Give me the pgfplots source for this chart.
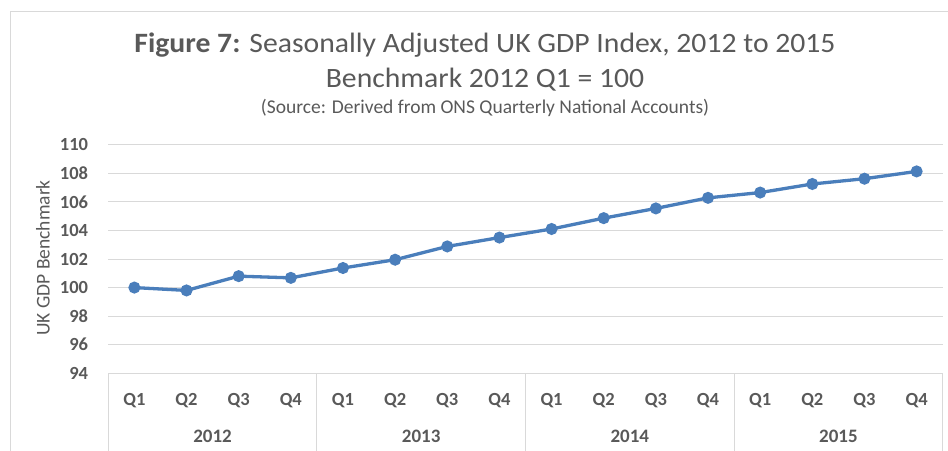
\documentclass[border=0pt]{standalone}
\usepackage{pgfplots}
\pgfplotsset{compat=1.18}
\usepackage{fontspec}
\setmainfont{Carlito}
\definecolor{gdpblue}{HTML}{4A7EBB}
\definecolor{labelgrey}{HTML}{595959}
\definecolor{gridgrey}{HTML}{D9D9D9}
\begin{document}
\begin{tikzpicture}
% chart frame (only top and left edges are in view)
\draw[gridgrey,line width=1pt] (10pt,-5pt) -- (10pt,438pt) -- (955pt,438pt);
% titles
\node[labelgrey,anchor=base,inner sep=0pt,font=\fontsize{28}{34}\selectfont] at (485pt,397.7pt) {\scalebox{1.06}[1]{\textbf{Figure 7:} Seasonally Adjusted UK GDP Index, 2012 to 2015}};
\node[labelgrey,anchor=base,inner sep=0pt,font=\fontsize{28}{34}\selectfont] at (485pt,362.5pt) {\scalebox{1.06}[1]{Benchmark 2012 Q1 = 100}};
\node[labelgrey,anchor=base,inner sep=0pt,font=\fontsize{19.5}{23}\selectfont] at (485pt,336pt) {(Source: Derived from ONS Quarterly National Accounts)};
\node[labelgrey,rotate=90,inner sep=0pt,font=\fontsize{19.5}{23}\selectfont] at (43pt,192pt) {UK GDP Benchmark};
\begin{axis}[
  at={(108.3pt,76.7pt)},anchor=south west,
  scale only axis,width=834.4pt,height=228.6pt,
  xmin=-0.5,xmax=15.5,ymin=94,ymax=110,
  ytick={94,96,...,110},
  xtick={0,...,15},
  xticklabels={Q1,Q2,Q3,Q4,Q1,Q2,Q3,Q4,Q1,Q2,Q3,Q4,Q1,Q2,Q3,Q4},
  axis lines*=left,
  axis line style={gridgrey,line width=1pt},
  y axis line style={draw=none},
  ymajorgrids,grid style={gridgrey,line width=1pt},
  major tick length=0pt,
  clip=false,
  yticklabel style={labelgrey,inner sep=0pt,anchor=east,xshift=-20pt,font=\bfseries\fontsize{18.5}{22}\selectfont},
  xticklabel style={labelgrey,inner sep=0pt,anchor=base,yshift=-32.5pt,font=\bfseries\fontsize{18.5}{22}\selectfont},
  /pgf/number format/assume math mode=true,
]
\addplot[gdpblue,line width=3.3pt,mark=*,mark size=4.3pt] coordinates {
 (0,100.0) (1,99.8) (2,100.8) (3,100.68)
 (4,101.37) (5,101.95) (6,102.88) (7,103.5)
 (8,104.1) (9,104.86) (10,105.54) (11,106.28)
 (12,106.65) (13,107.25) (14,107.62) (15,108.13)};
\foreach \s in {-0.5,3.5,7.5,11.5,15.5} {
  \edef\tmp{\noexpand\draw[gridgrey,line width=1pt] (axis cs:\s,94) -- ++(0pt,-90pt);}\tmp
}
\foreach \c/\yr in {1.5/2012,5.5/2013,9.5/2014,13.5/2015} {
  \edef\tmp{\noexpand\node[labelgrey,anchor=base,inner sep=0pt,font=\noexpand\bfseries\noexpand\fontsize{19}{22}\noexpand\selectfont] at (axis cs:\c,94) [yshift=-69.5pt] {\yr};}\tmp
}
\end{axis}
\pgfresetboundingbox
\useasboundingbox (0pt,0pt) rectangle (948pt,450pt);
\end{tikzpicture}
\end{document}
